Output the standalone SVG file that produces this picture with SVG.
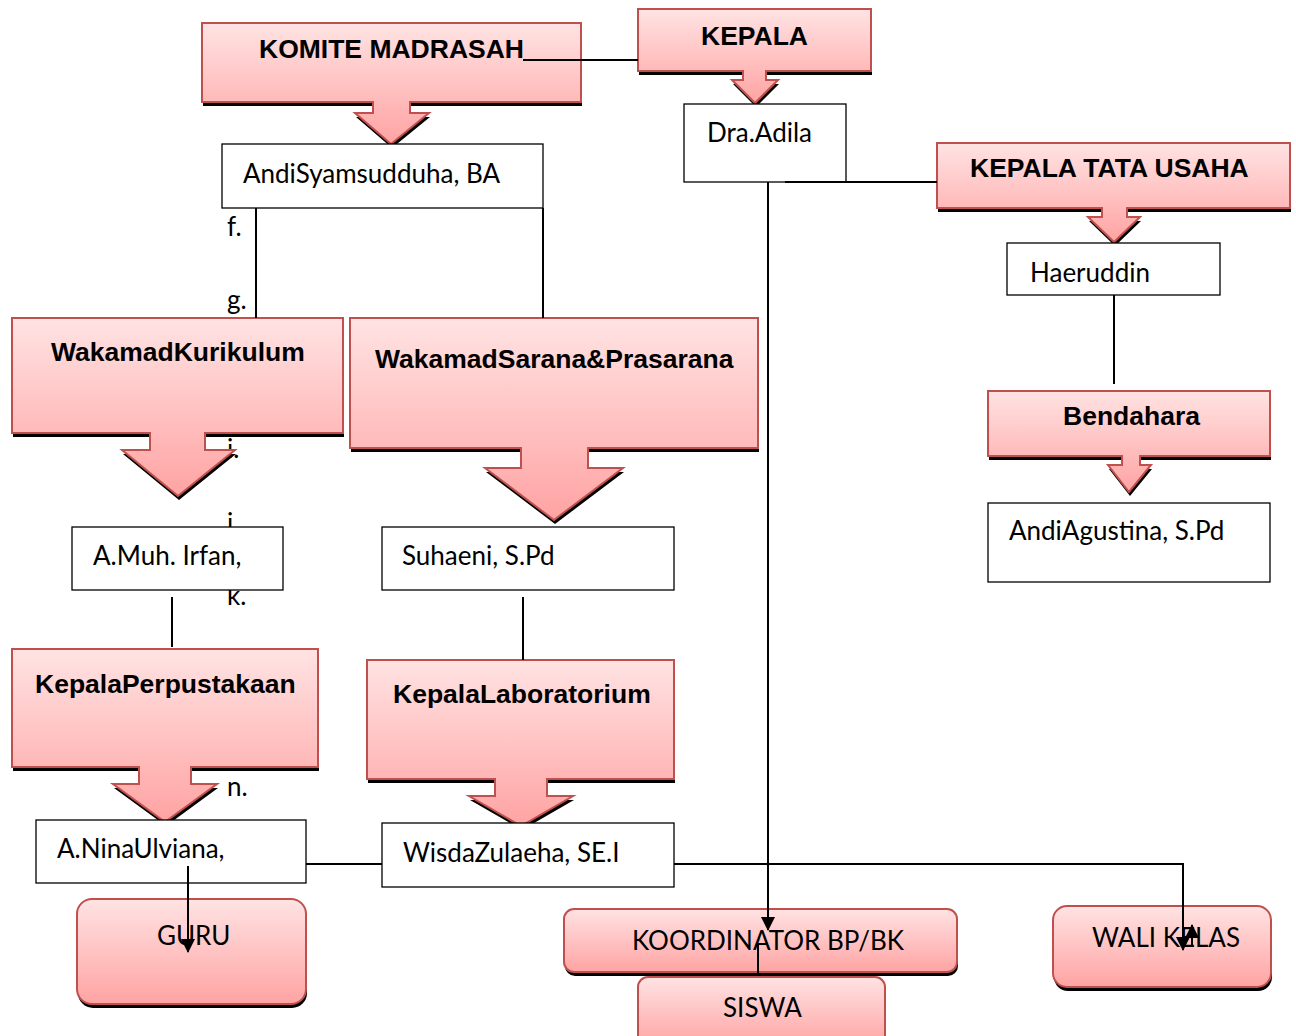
<svg xmlns="http://www.w3.org/2000/svg" width="1296" height="1036" viewBox="0 0 1296 1036">
<style>
.bg{fill:#ffffff}
.call{fill:url(#pink);stroke:#C0504D;stroke-width:2}
.rbox{fill:url(#pink);stroke:#C0504D;stroke-width:2}
.shadow{fill:#000000}
.box{fill:#ffffff;stroke:#000000;stroke-width:1.3}
.h{font-family:"Liberation Sans",Arial,sans-serif;font-weight:bold;font-size:26.5px;fill:#000}
.t{font-family:Lato,"Open Sans",sans-serif;font-size:26px;fill:#000}
.conn{fill:none;stroke:#000;stroke-width:2}
</style>
<defs>
<linearGradient id="pink" x1="0" y1="0" x2="0" y2="1">
<stop offset="0" stop-color="#FFE3E3"/>
<stop offset="1" stop-color="#FFA3A3"/>
</linearGradient>
<marker id="arr" markerUnits="userSpaceOnUse" markerWidth="14" markerHeight="18" refX="13" refY="7" orient="auto">
<path d="M0,0 L14,7 L0,14 Z" fill="#000"/>
</marker>
</defs>
<rect class="bg" x="0" y="0" width="1296" height="1036"/>

<g id="stray-markers">
<text class="t" x="227" y="236">f.</text>
<text class="t" x="227" y="309">g.</text>
<text class="t" x="227" y="458">i.</text>
<text class="t" x="227" y="532">j.</text>
<text class="t" x="227" y="605">k.</text>
<text class="t" x="227" y="796">n.</text>
</g>

<g id="komite-madrasah">
<path class="shadow" transform="translate(1,4)" d="M202,23 H581 V102 H410 V113 H429 L391,144 L355,113 H373 V102 H202 Z"/>
<path class="call" d="M202,23 H581 V102 H410 V113 H429 L391,144 L355,113 H373 V102 H202 Z"/>
<text class="h" x="259" y="58">KOMITE MADRASAH</text>
</g>

<g id="kepala">
<path class="shadow" transform="translate(1,4)" d="M638,9 H871 V71 H766 V80 H778 L755,103 L732,80 H743 V71 H638 Z"/>
<path class="call" d="M638,9 H871 V71 H766 V80 H778 L755,103 L732,80 H743 V71 H638 Z"/>
<text class="h" x="701" y="45">KEPALA</text>
</g>

<g id="kepala-tata-usaha">
<path class="shadow" transform="translate(1,4)" d="M937,143 H1290 V208 H1127 V217 H1140 L1114,242 L1088,217 H1102 V208 H937 Z"/>
<path class="call" d="M937,143 H1290 V208 H1127 V217 H1140 L1114,242 L1088,217 H1102 V208 H937 Z"/>
<text class="h" x="970" y="177">KEPALA TATA USAHA</text>
</g>

<g id="bendahara">
<path class="shadow" transform="translate(1,4)" d="M988,391 H1270 V456 H1140 V465 H1151 L1129,492 L1108,465 H1122 V456 H988 Z"/>
<path class="call" d="M988,391 H1270 V456 H1140 V465 H1151 L1129,492 L1108,465 H1122 V456 H988 Z"/>
<text class="h" x="1063" y="425">Bendahara</text>
</g>

<g id="wakamad-kurikulum">
<path class="shadow" transform="translate(1,4)" d="M12,318 H343 V433 H205 V450 H235 L178,496 L122,450 H150 V433 H12 Z"/>
<path class="call" d="M12,318 H343 V433 H205 V450 H235 L178,496 L122,450 H150 V433 H12 Z"/>
<text class="h" x="51" y="361">WakamadKurikulum</text>
</g>

<g id="wakamad-sarana">
<path class="shadow" transform="translate(1,4)" d="M350,318 H758 V448 H588 V468 H623 L554,520 L485,468 H521 V448 H350 Z"/>
<path class="call" d="M350,318 H758 V448 H588 V468 H623 L554,520 L485,468 H521 V448 H350 Z"/>
<text class="h" x="375" y="368">WakamadSarana&amp;Prasarana</text>
</g>

<g id="kepala-perpustakaan">
<path class="shadow" transform="translate(1,4)" d="M12,649 H318 V767 H191 V784 H217 L165,822 L113,784 H139 V767 H12 Z"/>
<path class="call" d="M12,649 H318 V767 H191 V784 H217 L165,822 L113,784 H139 V767 H12 Z"/>
<text class="h" x="35" y="693">KepalaPerpustakaan</text>
</g>

<g id="kepala-laboratorium">
<path class="shadow" transform="translate(1,4)" d="M367,660 H674 V779 H547 V796 H573 L521,826 L469,796 H495 V779 H367 Z"/>
<path class="call" d="M367,660 H674 V779 H547 V796 H573 L521,826 L469,796 H495 V779 H367 Z"/>
<text class="h" x="393" y="703">KepalaLaboratorium</text>
</g>

<g id="andi-syamsudduha">
<rect class="box" x="222" y="144" width="321" height="64"/>
<text class="t" x="243" y="183">AndiSyamsudduha, BA</text>
</g>

<g id="dra-adila">
<rect class="box" x="684" y="104" width="162" height="78"/>
<text class="t" x="707" y="142">Dra.Adila</text>
</g>

<g id="haeruddin">
<rect class="box" x="1007" y="243" width="213" height="52"/>
<text class="t" x="1030" y="282">Haeruddin</text>
</g>

<g id="andi-agustina">
<rect class="box" x="988" y="503" width="282" height="79"/>
<text class="t" x="1009" y="540">AndiAgustina, S.Pd</text>
</g>

<g id="muh-irfan">
<rect class="box" x="72" y="527" width="211" height="63"/>
<text class="t" x="93" y="565">A.Muh. Irfan,</text>
</g>

<g id="suhaeni">
<rect class="box" x="382" y="527" width="292" height="63"/>
<text class="t" x="402" y="565">Suhaeni, S.Pd</text>
</g>

<g id="nina-ulviana">
<rect class="box" x="36" y="820" width="270" height="63"/>
<text class="t" x="57" y="858">A.NinaUlviana,</text>
</g>

<g id="wisda-zulaeha">
<rect class="box" x="382" y="823" width="292" height="64"/>
<text class="t" x="403" y="862">WisdaZulaeha, SE.I</text>
</g>

<g id="guru">
<rect class="shadow" x="78" y="903" width="229" height="105" rx="15"/>
<rect class="rbox" x="77" y="899" width="229" height="105" rx="15"/>
<text class="t" x="157" y="945">GURU</text>
</g>

<g id="koordinator">
<rect class="shadow" x="565" y="913" width="393" height="63" rx="10"/>
<rect class="rbox" x="564" y="909" width="393" height="63" rx="10"/>
<text class="t" x="632" y="950">KOORDINATOR BP/BK</text>
</g>

<g id="siswa">
<rect class="rbox" x="638" y="977" width="247" height="70" rx="10"/>
<text class="t" x="723" y="1017">SISWA</text>
</g>

<g id="wali-kelas">
<rect class="shadow" x="1054" y="910" width="218" height="81" rx="14"/>
<rect class="rbox" x="1053" y="906" width="218" height="81" rx="14"/>
<text class="t" x="1092" y="947">WALI KELAS</text>
</g>

<g id="connectors">
<path class="conn" d="M523,60 H638"/>
<path class="conn" d="M256,208 V318"/>
<path class="conn" d="M543,208 V318"/>
<path class="conn" d="M768,182 V930" marker-end="url(#arr)"/>
<path class="conn" d="M785,182 H937"/>
<path class="conn" d="M1114,295 V384"/>
<path class="conn" d="M172,597 V647"/>
<path class="conn" d="M523,597 V660"/>
<path class="conn" d="M306,864 H382"/>
<path class="conn" d="M674,864 H1183 V950" marker-end="url(#arr)"/>
<path class="conn" d="M1192,946 V925" marker-end="url(#arr)"/>
<path class="conn" d="M188,866 V952" marker-end="url(#arr)"/>
<path class="conn" d="M758,943 V976"/>
</g>
</svg>
